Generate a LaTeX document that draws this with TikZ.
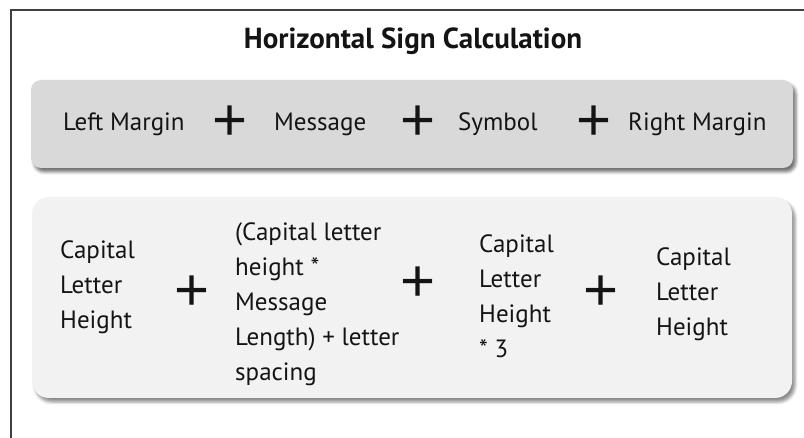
\documentclass[tikz,border=0pt]{standalone}
\usepackage{fontspec}
\setmainfont{PT Sans}
\newfontfamily\plusfont{Liberation Sans}
\definecolor{signFrame}{HTML}{404040}
\definecolor{signGray}{HTML}{D9D9D9}
\definecolor{signLight}{HTML}{F2F2F2}
\definecolor{signInk}{HTML}{141414}
\usetikzlibrary{
	positioning,
	shadows.blur
}
\tikzset{
	marco/.style={
		draw=signFrame,
		line width=2pt
	},
	barra/.style={
		rounded corners=10pt,
		fill=signGray,
		inner sep=0pt,
		minimum width=762pt,
		minimum height=88pt,
		blur shadow={shadow xshift=3pt, shadow yshift=-4pt, shadow blur radius=3pt, shadow opacity=55}
	},
	panel/.style={
		rounded corners=17pt,
		fill=signLight,
		inner sep=0pt,
		minimum width=760pt,
		minimum height=201pt,
		blur shadow={shadow xshift=3pt, shadow yshift=-4pt, shadow blur radius=3pt, shadow opacity=45}
	},
	titulo/.style={
		font=\fontsize{29}{32}\selectfont\bfseries,
		text=signInk,
		inner sep=0pt
	},
	termino/.style={
		font=\fontsize{25}{35}\selectfont,
		text=signInk,
		align=left,
		inner sep=0pt
	},
	mas/.style={
		font=\plusfont\fontsize{60}{60}\selectfont,
		text=signInk,
		inner sep=0pt
	}
}

\begin{document}
\begin{tikzpicture}[x=1pt, y=-1pt]
		\useasboundingbox (0,0) rectangle (804,438);
		\draw[marco] (810,10) -- (11,10) -- (11,444);
		\node[titulo] (titulo) at (413,41) {Horizontal Sign Calculation};
		% suma de partes
		\node[barra] (partes) at (412,124) {};
		\node[termino, anchor=base west] (margenIzq) at (63,131) {Left Margin};
		\node[mas] (masA) at (230,123) {+};
		\node[termino, anchor=base west] (mensaje) at (274,131) {Message};
		\node[mas] (masB) at (418,123) {+};
		\node[termino, anchor=base west] (simbolo) at (458,131) {Symbol};
		\node[mas] (masC) at (594,123) {+};
		\node[termino, anchor=base west] (margenDer) at (628,131) {Right Margin};
		% medidas
		\node[panel] (medidas) at (412,297.5) {};
		\node[termino, anchor=north west] (alturaIzq) at (60,240.5) {Capital\\Letter\\Height};
		\node[mas] (masD) at (192,293) {+};
		\node[termino, anchor=north west] (largo) at (235,222.5) {(Capital letter\\height *\\Message\\Length) + letter\\spacing};
		\node[mas] (masE) at (418,284) {+};
		\node[termino, anchor=north west] (alturaSim) at (479,234.5) {Capital\\Letter\\Height\\* 3};
		\node[mas] (masF) at (601,293) {+};
		\node[termino, anchor=north west] (alturaDer) at (656,247.5) {Capital\\Letter\\Height};
	\end{tikzpicture}
\end{document}
